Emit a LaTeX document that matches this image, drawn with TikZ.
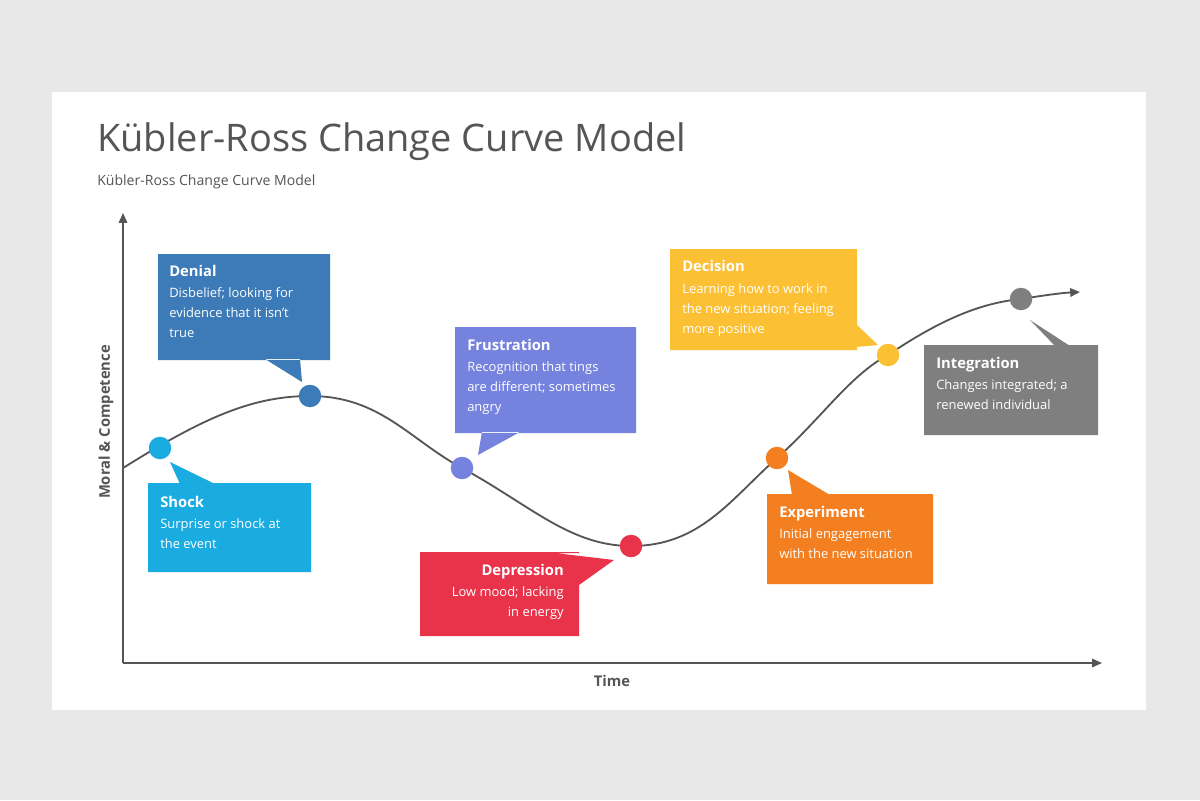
\documentclass[tikz,border=0pt]{standalone}
\usepackage{fontspec}
\setmainfont{Open Sans}
\usetikzlibrary{arrows.meta}
\definecolor{bg}{HTML}{E9E8E9}
\definecolor{ink}{HTML}{555555}
\definecolor{cShock}{HTML}{1AACE0}
\definecolor{cDenial}{HTML}{3D7AB8}
\definecolor{cFrust}{HTML}{7582DE}
\definecolor{cDep}{HTML}{E8334A}
\definecolor{cExp}{HTML}{F47F20}
\definecolor{cDec}{HTML}{FCC034}
\definecolor{cInt}{HTML}{7F7F7F}
\begin{document}
\begin{tikzpicture}[x=0.025cm,y=-0.025cm,
 ttl/.style={anchor=north west,inner sep=0,text=white,font=\fontsize{10.5}{13}\selectfont\bfseries},
 body/.style={anchor=north west,inner sep=0,text=white,align=left,font=\fontsize{9.2}{14.2}\selectfont},
 dot/.style={circle,fill=#1,minimum size=16pt,inner sep=0},
 ax/.style={draw=ink,line width=1.2pt,-{Triangle[length=7pt,width=6pt]}}]
\useasboundingbox (0,0) rectangle (1200,800);
\fill[bg] (0,0) rectangle (1200,800);
\fill[white] (52,92) rectangle (1146,710);
\node[anchor=west,inner sep=0,text=ink,font=\fontsize{27}{30}\selectfont] (title) at (97,142) {Kübler-Ross Change Curve Model};
\node[anchor=west,inner sep=0,text=ink,font=\fontsize{10}{12}\selectfont] (sub) at (97,182) {Kübler-Ross Change Curve Model};
% axes
\coordinate (o) at (123,663);
\coordinate (ytop) at (123,213);
\coordinate (xend) at (1102,663);
\draw[ax] (o) -- (ytop);
\draw[ax] (o) -- (xend);
\node[text=ink,font=\fontsize{10.5}{12}\selectfont\bfseries,rotate=90] (ylab) at (106,422) {Moral \& Competence};
\node[text=ink,font=\fontsize{10.5}{12}\selectfont\bfseries] (xlab) at (612,681) {Time};
% boxes
\fill[cShock] (148,483) rectangle (311,572) (170,462) -- (180,484) -- (215,484) -- cycle;
\fill[cDenial] (158,254) rectangle (330,360) (265,359) -- (300,359) -- (302,382) -- cycle;
\fill[cFrust] (455,327) rectangle (636,433) (482,432) -- (520,432) -- (478,455) -- cycle;
\fill[cDep] (420,552) rectangle (579,636) (555,553) -- (579,553) -- (579,585) -- (614,560) -- cycle;
\fill[cExp] (767,494) rectangle (933,584) (792,495) -- (830,495) -- (788,470) -- cycle;
\fill[cDec] (670,249) rectangle (857,350) (835,349) -- (857,349) -- (857,325) -- (878,345) -- cycle;
\fill[cInt] (924,345) rectangle (1098,435) (1030,320) -- (1055,346) -- (1098,346) -- (1070,346) -- cycle;
% curve
\coordinate (c0) at (123,468);
\coordinate (cend) at (1080,292);
\draw[ink,line width=1.3pt,-{Triangle[length=7pt,width=6pt]}] (c0) .. controls (200,420) and (250,396) .. (310,396)
 .. controls (380,396) and (410,440) .. (462,468)
 .. controls (530,505) and (570,546) .. (631,546)
 .. controls (700,546) and (730,500) .. (777,458)
 .. controls (820,420) and (850,375) .. (888,355)
 .. controls (940,320) and (980,303) .. (1021,299)
 .. controls (1040,296) and (1060,293) .. (cend);
\node[dot=cShock] (d1) at (160,448) {};
\node[dot=cDenial] (d2) at (310,396) {};
\node[dot=cFrust] (d3) at (462,468) {};
\node[dot=cDep] (d4) at (631,546) {};
\node[dot=cExp] (d5) at (777,458) {};
\node[dot=cDec] (d6) at (888,355) {};
\node[dot=cInt] (d7) at (1021,299) {};
% texts
\node[ttl] (t1) at (160,496) {Shock};
\node[body] (b1) at (160,518) {Surprise or shock at\\the event};
\node[ttl] (t2) at (169,265) {Denial};
\node[body] (b2) at (169,287) {Disbelief; looking for\\evidence that it isn't\\true};
\node[ttl] (t3) at (467,339) {Frustration};
\node[body] (b3) at (467,361) {Recognition that tings\\are different; sometimes\\angry};
\node[ttl,anchor=north east] (t4) at (564,564) {Depression};
\node[body,anchor=north east,align=right] (b4) at (564,586) {Low mood; lacking\\in energy};
\node[ttl] (t5) at (779,506) {Experiment};
\node[body] (b5) at (779,528) {Initial engagement\\with the new situation};
\node[ttl] (t6) at (682,260) {Decision};
\node[body] (b6) at (682,283) {Learning how to work in\\the new situation; feeling\\more positive};
\node[ttl] (t7) at (936,357) {Integration};
\node[body] (b7) at (936,379) {Changes integrated; a\\renewed individual};
\end{tikzpicture}
\end{document}
